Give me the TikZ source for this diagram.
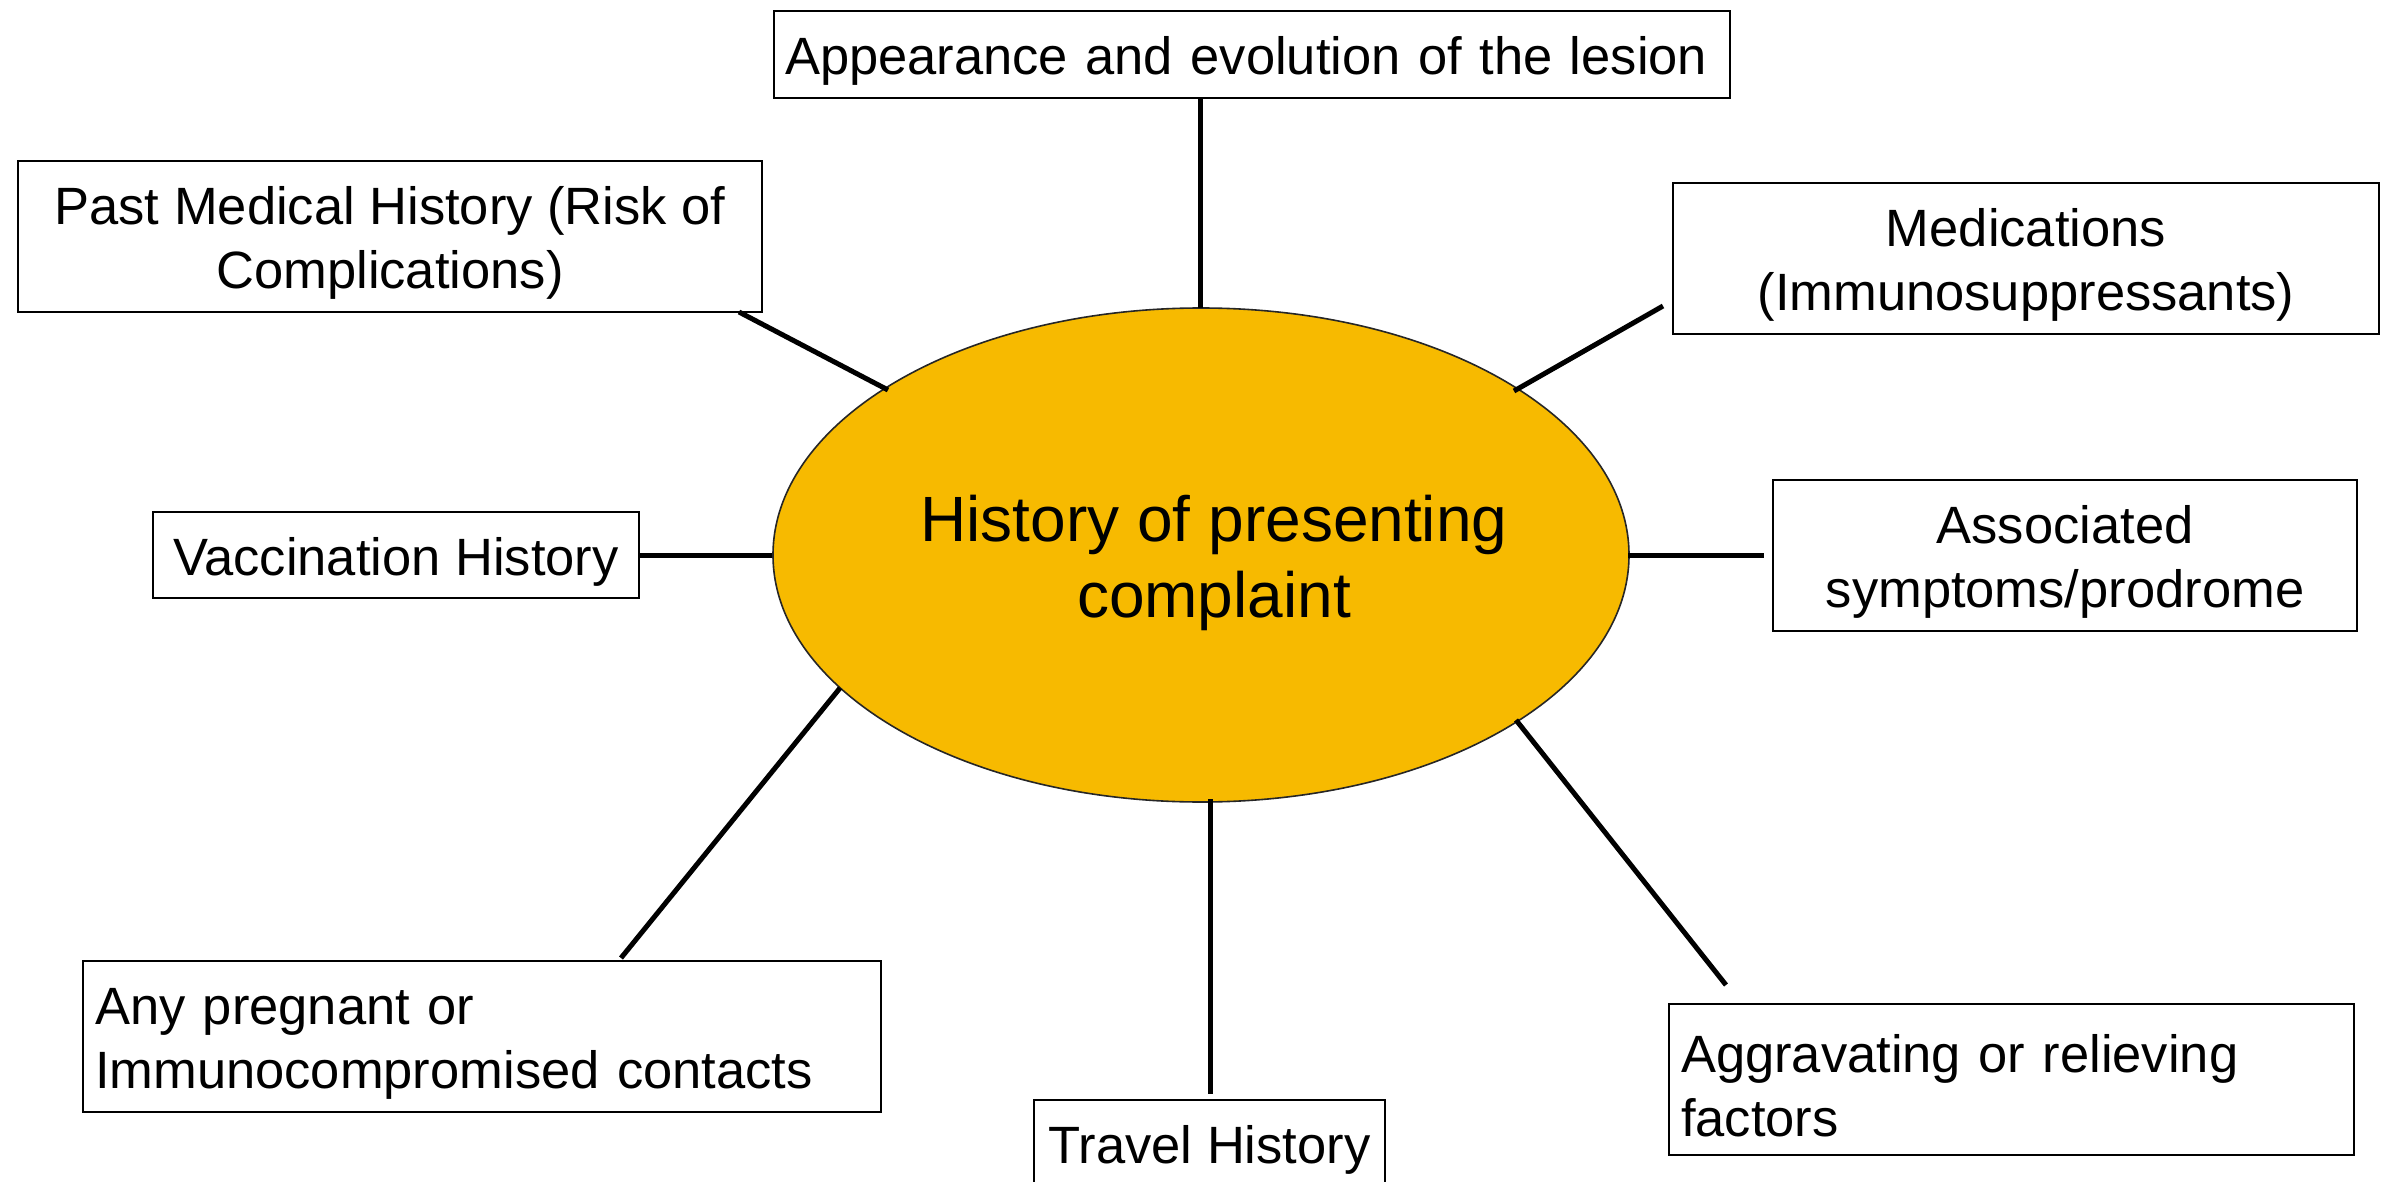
\documentclass[tikz,border=0pt]{standalone}
\usepackage{fontspec}
\setmainfont{Liberation Sans}
\usetikzlibrary{shapes.geometric}
\definecolor{hpcfill}{RGB}{247,186,0}
\newcommand{\tstrut}{\rule{0pt}{51pt}}
\tikzset{
  infobox/.style={draw=black, line width=2.6pt, fill=white, inner sep=0pt,
    font=\fontsize{52.5pt}{64pt}\selectfont, align=center},
  leftbox/.style={infobox, align=left, inner xsep=12pt},
  link/.style={line width=5pt, draw=black},
}
\begin{document}
\begin{tikzpicture}[x=1pt,y=-1pt]
\useasboundingbox (0,0) rectangle (2391,1182);
\fill[white] (0,0) rectangle (2391,1182);

% centre ellipse
\node[ellipse, draw=black!85, line width=1.6pt, fill=hpcfill,
      minimum width=856pt, minimum height=494pt, inner sep=0pt] (c) at (1201,555) {};
\node[font=\fontsize{64pt}{76pt}\selectfont, align=center, inner sep=0pt] (ct) at (1214,563)
  {History of presenting\\complaint};

% boxes
\node[leftbox, inner xsep=11pt, minimum width=956pt, minimum height=87pt, text width=934pt] (app) at (1252,54.5)
  {\tstrut Appearance and evolution of the lesion};
\node[infobox, minimum width=744pt, minimum height=151pt] (past) at (390,236.5)
  {\tstrut Past Medical History (Risk of\\Complications)};
\node[infobox, minimum width=706pt, minimum height=151pt] (med) at (2026,258.5)
  {\tstrut Medications\\(Immunosuppressants)};
\node[infobox, minimum width=486pt, minimum height=86pt] (vac) at (396,555)
  {\tstrut Vaccination History};
\node[infobox, minimum width=584pt, minimum height=151pt] (assoc) at (2065,555.5)
  {\tstrut Associated\\symptoms/prodrome};
\node[leftbox, minimum width=798pt, minimum height=151pt, text width=774pt] (preg) at (482,1036.5)
  {\tstrut Any pregnant or\\Immunocompromised contacts};
\node[leftbox, minimum width=685pt, minimum height=151pt, text width=661pt] (agg) at (2011.5,1079.5)
  {\tstrut Aggravating or relieving\\factors};
\node[infobox, minimum width=351pt, minimum height=87pt] (trav) at (1209.5,1143.5)
  {\tstrut Travel History};

% connector end points
\coordinate (appA) at (1200,98);   \coordinate (appB) at (1200,308);
\coordinate (pastA) at (739,312);  \coordinate (pastB) at (888,390);
\coordinate (medA) at (1663,306);  \coordinate (medB) at (1514,391);
\coordinate (assocA) at (1628,555); \coordinate (assocB) at (1764,555);
\coordinate (pregA) at (840,688);  \coordinate (pregB) at (621,958);
\coordinate (travA) at (1210,799); \coordinate (travB) at (1210,1094);
\coordinate (aggA) at (1516,720);  \coordinate (aggB) at (1726,985);

\draw[link] (appA) -- (appB);
\draw[link] (pastA) -- (pastB);
\draw[link] (medA) -- (medB);
\draw[link] (vac.east) -- (c.west);
\draw[link] (assocA) -- (assocB);
\draw[link] (pregA) -- (pregB);
\draw[link] (travA) -- (travB);
\draw[link] (aggA) -- (aggB);
\end{tikzpicture}
\end{document}
